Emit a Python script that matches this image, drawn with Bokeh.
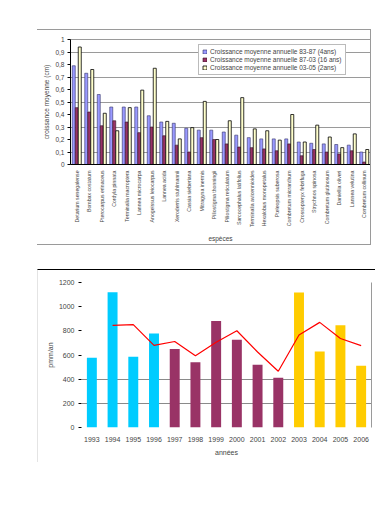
import math
from bokeh.plotting import figure
from bokeh.models import (ColumnDataSource, FactorRange, Legend, LegendItem, FixedTicker,
                          CustomJSTickFormatter, LinearAxis, Spacer, Range1d)
from bokeh.layouts import column, row
from bokeh.transform import dodge
from bokeh.embed import file_html
from bokeh.resources import INLINE

FONT = "Liberation Sans"

# ---------------- data: top chart ----------------
species = [
    "Detarium senegalense", "Bombax costatum", "Pterocarpus erinaceus", "Cordyla pinnata",
    "Terminalia macroptera", "Lannea microcarpa", "Anogeissus leiocarpus", "Lannea acida",
    "Xeroderris stuhlmannii", "Cassia sieberiana", "Mitragyna inermis", "Piliostigma thonningii",
    "Piliostigma reticulatum", "Sarcocephalus latifolius", "Terminalia avicennioides",
    "Hexalobus monopetalus", "Pteleopsis suberosa", "Combretum micranthum",
    "Crossopteryx febrifuga", "Strychnos spinosa", "Combretum glutinosum", "Daniellia oliveri",
    "Lannea velutina", "Combretum collinum",
]
growth_83_87 = [0.79, 0.73, 0.56, 0.46, 0.46, 0.46, 0.39, 0.34, 0.33, 0.29, 0.275, 0.275,
                0.26, 0.235, 0.215, 0.205, 0.205, 0.205, 0.18, 0.17, 0.165, 0.16, 0.155, 0.10]
growth_87_03 = [0.455, 0.42, 0.31, 0.35, 0.34, 0.255, 0.30, 0.23, 0.155, 0.10, 0.215, 0.20,
                0.165, 0.14, 0.135, 0.125, 0.11, 0.165, 0.07, 0.12, 0.10, 0.085, 0.11, 0.02]
growth_03_05 = [0.94, 0.76, 0.41, 0.27, 0.455, 0.595, 0.77, 0.345, 0.205, 0.295, 0.505, 0.20,
                0.35, 0.535, 0.285, 0.27, 0.195, 0.40, 0.18, 0.315, 0.22, 0.135, 0.245, 0.12]
series_labels = [
    "Croissance moyenne annuelle 83-87 (4ans)",
    "Croissance moyenne annuelle 87-03 (16 ans)",
    "Croissance moyenne annuelle 03-05 (2ans)",
]

# ---------------- data: bottom chart ----------------
years = ["1993", "1994", "1995", "1996", "1997", "1998", "1999", "2000", "2001", "2002",
         "2003", "2004", "2005", "2006"]
rainfall = [578, 1120, 586, 777, 650, 539, 882, 727, 520, 412, 1117, 628, 846, 512]
trend_years = ["1994", "1995", "1996", "1997", "1998", "1999", "2000", "2001", "2002",
               "2003", "2004", "2005", "2006"]
trend_values = [845, 851, 680, 712, 594, 705, 801, 625, 466, 765, 870, 737, 678]

# ---------------- top chart ----------------
src1 = ColumnDataSource(dict(species=species, a=growth_83_87, b=growth_87_03, c=growth_03_05))

p1 = figure(width=334, height=216, x_range=FactorRange(factors=species),
            y_range=Range1d(0, 1), output_backend="svg", toolbar_location=None,
            min_border_left=33, min_border_right=1, min_border_top=9, min_border_bottom=82,
            background_fill_color="white", border_fill_color="white",
            styles={"border-top": "1px solid #9a9a9a", "border-bottom": "1px solid #9a9a9a",
                    "border-right": "1px solid #9a9a9a", "box-sizing": "border-box"})

w = 0.24
r_a = p1.vbar(x=dodge("species", -w, range=p1.x_range), top="a", width=w, source=src1,
              fill_color="#9999FF", line_color="#333366", line_width=0.6)
r_b = p1.vbar(x=dodge("species", 0, range=p1.x_range), top="b", width=w, source=src1,
              fill_color="#993366", line_color="#331122", line_width=0.6)
r_c = p1.vbar(x=dodge("species", w, range=p1.x_range), top="c", width=w, source=src1,
              fill_color="#FFFFCC", line_color="#000000", line_width=0.8)

p1.outline_line_color = "#9a9a9a"
p1.xgrid.grid_line_color = None
p1.ygrid.ticker = FixedTicker(ticks=[0.1, 0.3, 0.5, 0.7, 0.9])
p1.ygrid.grid_line_color = "#9a9a9a"
p1.yaxis.ticker = FixedTicker(ticks=[0, 0.1, 0.2, 0.3, 0.4, 0.5, 0.6, 0.7, 0.8, 0.9, 1.0])
p1.yaxis.formatter = CustomJSTickFormatter(code="""
    if (Math.abs(tick) < 1e-9) return '0';
    if (Math.abs(tick - 1) < 1e-9) return '1';
    return tick.toFixed(1).replace('.', ',');
""")
p1.yaxis.axis_label = "croissance moyenne (cm)"
p1.xaxis.axis_label = "espèces"
for ax in (p1.xaxis, p1.yaxis):
    ax.axis_label_text_font = FONT
    ax.axis_label_text_font_size = "6.5px"
    ax.axis_label_text_font_style = "normal"
    ax.major_label_text_font = FONT
    ax.major_label_text_font_size = "6.5px"
    ax.axis_line_color = "#000000"
    ax.major_tick_line_color = "#000000"
    ax.major_tick_out = 3
    ax.major_tick_in = 0
    ax.minor_tick_line_color = None
p1.yaxis.axis_label_standoff = 2
p1.yaxis.major_label_standoff = 3
p1.xaxis.major_label_orientation = math.pi / 2
p1.xaxis.major_label_text_font_size = "5.2px"
p1.xaxis.major_tick_line_color = None
p1.xaxis.major_label_standoff = 3
p1.xaxis.axis_label_standoff = 5

legend = Legend(items=[LegendItem(label=series_labels[0], renderers=[r_a]),
                       LegendItem(label=series_labels[1], renderers=[r_b]),
                       LegendItem(label=series_labels[2], renderers=[r_c])],
                location=(128, 89), orientation="vertical",
                label_text_font=FONT, label_text_font_size="6.5px",
                label_height=7, glyph_height=5, glyph_width=5, spacing=1,
                padding=3, margin=0, label_standoff=3,
                border_line_color="#777777", border_line_width=1,
                background_fill_color="white", background_fill_alpha=1)
p1.add_layout(legend)

# ---------------- bottom chart ----------------
def period_color(y):
    y = int(y)
    if y <= 1996:
        return "#00CCFF"
    if y <= 2002:
        return "#993366"
    return "#FFCC00"

src2 = ColumnDataSource(dict(year=years, rain=rainfall, color=[period_color(y) for y in years]))
src3 = ColumnDataSource(dict(year=trend_years, val=trend_values))

p2 = figure(width=338, height=193, x_range=FactorRange(factors=years),
            y_range=Range1d(0, 1200), output_backend="svg", toolbar_location=None,
            min_border_left=43, min_border_right=5, min_border_top=12, min_border_bottom=36,
            background_fill_color="white", border_fill_color="white",
            styles={"border-top": "1px solid #000000", "border-left": "1px solid #e4e4e4",
                    "box-sizing": "border-box"})
p2.vbar(x="year", top="rain", width=0.48, source=src2, fill_color="color", line_color=None)
p2.line(x="year", y="val", source=src3, line_color="#FF0000", line_width=1.2)

p2.outline_line_color = None
p2.xgrid.grid_line_color = None
p2.ygrid.ticker = FixedTicker(ticks=[200, 400])
p2.ygrid.grid_line_color = "#8a8a8a"
p2.yaxis.ticker = FixedTicker(ticks=[0, 200, 400, 600, 800, 1000, 1200])
p2.yaxis.axis_label = "pmm/an"
p2.xaxis.axis_label = "années"
for ax in (p2.xaxis, p2.yaxis):
    ax.axis_label_text_font = FONT
    ax.axis_label_text_font_size = "7px"
    ax.axis_label_text_font_style = "normal"
    ax.major_label_text_font = FONT
    ax.major_label_text_font_size = "7px"
    ax.axis_line_color = None
    ax.major_tick_line_color = "#000000"
    ax.major_tick_out = 3
    ax.major_tick_in = 0
    ax.minor_tick_line_color = None
p2.xaxis.major_tick_line_color = None
p2.xaxis.major_label_standoff = 6
p2.xaxis.axis_label_standoff = 4
p2.yaxis.axis_label_standoff = 2
p2.yaxis.major_label_standoff = 4

right_ax = LinearAxis(ticker=FixedTicker(ticks=[]), major_tick_line_color=None,
                      minor_tick_line_color=None, axis_line_color="#9a9a9a")
p2.add_layout(right_ax, "right")

layout = column(
    Spacer(height=29),
    row(Spacer(width=37), p1),
    Spacer(height=24),
    row(Spacer(width=37), p2),
)

open("out.html", "w").write(file_html(layout, INLINE))
